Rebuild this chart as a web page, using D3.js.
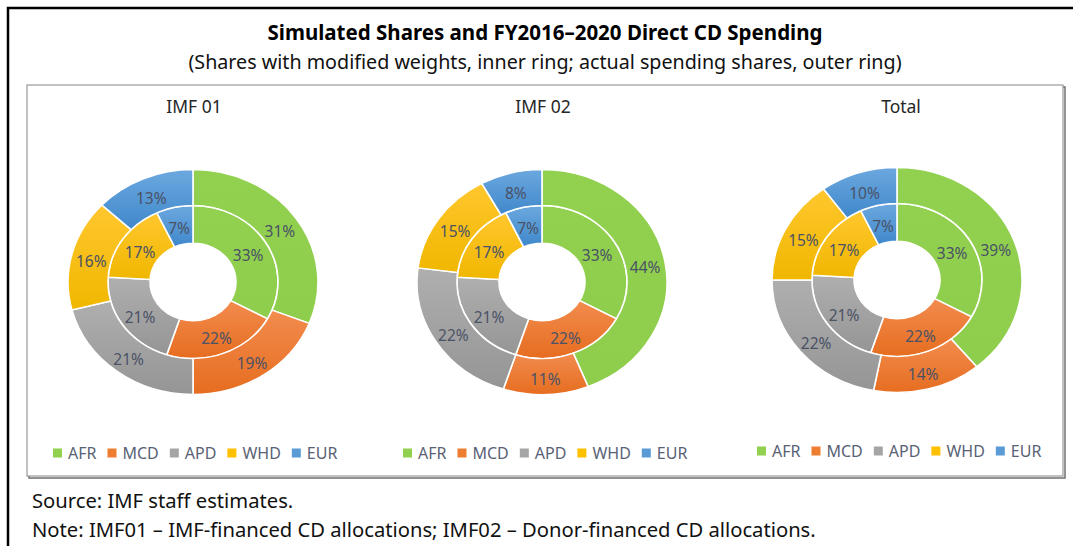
<!DOCTYPE html>
<html>
<head>
<meta charset="utf-8">
<script src="https://cdn.jsdelivr.net/npm/d3@7"></script>
<style>
  body { margin: 0; background: #fff; }
  text { font-family: "Noto Sans", "Open Sans", sans-serif; }
</style>
</head>
<body>
<div id="chart"></div>
<script>
// data
const regions = ["AFR", "MCD", "APD", "WHD", "EUR"]
const panelTitles = ["IMF 01", "IMF 02", "Total"]
const innerImf01 = [33, 22, 21, 17, 7]
const innerImf02 = [33, 22, 21, 17, 7]
const innerTotal = [33, 22, 21, 17, 7]
const outerImf01 = [31, 19, 21, 16, 13]
const outerImf02 = [44, 11, 22, 15, 8]
const outerTotal = [39, 14, 22, 15, 10]

const innerRings = [innerImf01, innerImf02, innerTotal]
const outerRings = [outerImf01, outerImf02, outerTotal]

// top / bottom colours of each slice gradient
const colorTop = ["#92D050", "#F28C4E", "#AFAFAF", "#FFC72E", "#6CA8DF"]
const colorBottom = ["#8FCD4D", "#E66D20", "#959595", "#F0B700", "#3F88CB"]
const legendColors = ["#92D050", "#ED7D31", "#A5A5A5", "#FFC000", "#5B9BD5"]

const W = 1073, H = 546
const centers = [{ x: 193, y: 282 }, { x: 542, y: 282 }, { x: 897, y: 280 }]
const titleX = [194, 543, 901]
const legendX = [53, 403, 757]
const legendY = [453, 453, 451]
const SQUASH = 0.9
const R = { hole: 43, mid: 85, outer: 125 }
const labelColor = "#4a5266"

const svg = d3.select("#chart")
    .append("svg")
    .attr("width", W)
    .attr("height", H)

const defs = svg.append("defs")
regions.forEach((r, i) => {
    const g = defs.append("linearGradient")
        .attr("id", "grad-" + r)
        .attr("x1", 0).attr("y1", 0)
        .attr("x2", 0).attr("y2", 1)
    g.append("stop").attr("offset", "0%").attr("stop-color", colorTop[i])
    g.append("stop").attr("offset", "100%").attr("stop-color", colorBottom[i])
})

// outer frame (black, open on right / bottom)
svg.append("path")
    .attr("d", `M8,${H} L8,8 L${W},8`)
    .attr("fill", "none")
    .attr("stroke", "#000")
    .attr("stroke-width", 2.5)

// title + subtitle
svg.append("text")
    .attr("x", 545)
    .attr("y", 40)
    .attr("text-anchor", "middle")
    .attr("font-weight", "bold")
    .style("font-size", "20.5px")
    .attr("fill", "#000")
    .text("Simulated Shares and FY2016\u20132020 Direct CD Spending")

svg.append("text")
    .attr("x", 545)
    .attr("y", 69)
    .attr("text-anchor", "middle")
    .style("font-size", "19.7px")
    .attr("fill", "#111")
    .text("(Shares with modified weights, inner ring; actual spending shares, outer ring)")

// chart box with a light shadow
svg.append("rect")
    .attr("x", 29).attr("y", 87)
    .attr("width", 1036).attr("height", 391)
    .attr("fill", "none")
    .attr("stroke", "#6f6f6f")
    .attr("stroke-width", 1.5)
svg.append("rect")
    .attr("x", 27).attr("y", 85)
    .attr("width", 1036).attr("height", 391)
    .attr("fill", "#fff")
    .attr("stroke", "#9a9a9a")
    .attr("stroke-width", 1.2)

const pie = d3.pie().sort(null).value(d => d)
const innerArc = d3.arc().innerRadius(R.hole).outerRadius(R.mid)
const outerArc = d3.arc().innerRadius(R.mid).outerRadius(R.outer)

function renderRing(layer, labels, c, values, arc) {
    const arcs = pie(values)
    layer.selectAll(null)
        .data(arcs)
        .enter()
        .append("path")
        .attr("d", arc)
        .attr("fill", (d, i) => `url(#grad-${regions[i]})`)
        .attr("stroke", "#fff")
        .attr("stroke-width", 1.6)

    labels.selectAll(null)
        .data(arcs)
        .enter()
        .append("text")
        .attr("x", d => c.x + arc.centroid(d)[0])
        .attr("y", d => c.y + 3 + arc.centroid(d)[1] * SQUASH)
        .attr("dy", "0.35em")
        .attr("text-anchor", "middle")
        .attr("fill", labelColor)
        .style("font-size", "15.5px")
        .text(d => d.data + "%")
}

function renderLegend(x0, y) {
    const g = svg.append("g")
    let x = x0
    regions.forEach((r, i) => {
        g.append("rect")
            .attr("x", x)
            .attr("y", y - 4.5)
            .attr("width", 9)
            .attr("height", 9)
            .attr("fill", legendColors[i])
        const t = g.append("text")
            .attr("x", x + 15)
            .attr("y", y)
            .attr("dy", "0.35em")
            .attr("fill", "#596275")
            .style("font-size", "16px")
            .text(r)
        x += 15 + t.node().getComputedTextLength() + 11
    })
}

panelTitles.forEach((title, p) => {
    const c = centers[p]
    svg.append("text")
        .attr("x", titleX[p])
        .attr("y", 113)
        .attr("text-anchor", "middle")
        .attr("fill", "#262626")
        .style("font-size", "17.5px")
        .text(title)

    const ringLayer = svg.append("g")
        .attr("transform", `translate(${c.x},${c.y}) scale(1,${SQUASH})`)
    const labelLayer = svg.append("g")

    renderRing(ringLayer, labelLayer, c, innerRings[p], innerArc)
    renderRing(ringLayer, labelLayer, c, outerRings[p], outerArc)

    renderLegend(legendX[p], legendY[p])
})

// footnotes
svg.append("text")
    .attr("x", 32)
    .attr("y", 508)
    .attr("fill", "#111")
    .style("font-size", "20.2px")
    .text("Source: IMF staff estimates.")

svg.append("text")
    .attr("x", 32)
    .attr("y", 537)
    .attr("fill", "#111")
    .style("font-size", "20.2px")
    .text("Note: IMF01 \u2013 IMF-financed CD allocations; IMF02 \u2013 Donor-financed CD allocations.")
</script>
</body>
</html>
